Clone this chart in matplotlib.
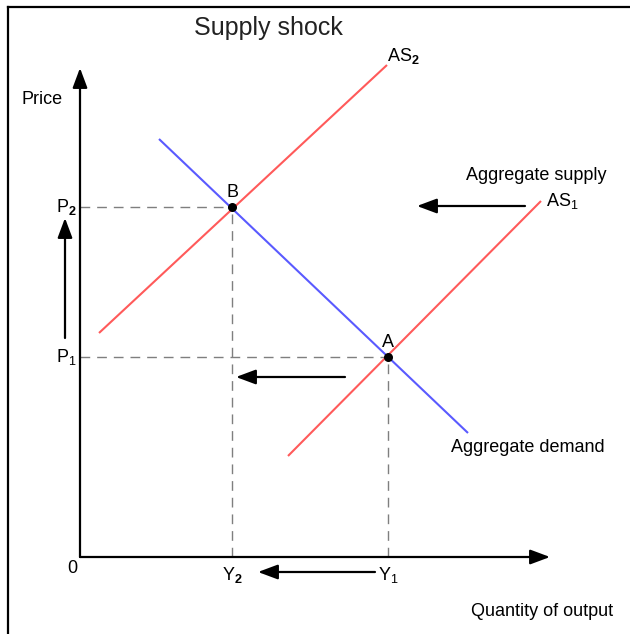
import matplotlib
matplotlib.use("Agg")
import matplotlib.pyplot as plt
from matplotlib.lines import Line2D

plt.rcParams['font.family'] = ['Liberation Sans', 'DejaVu Sans']
plt.rcParams['mathtext.fontset'] = 'custom'
plt.rcParams['mathtext.rm'] = 'Liberation Sans'
plt.rcParams['mathtext.bf'] = 'Liberation Sans:bold'
plt.rcParams['mathtext.it'] = 'Liberation Sans'

# ---- data (arbitrary economic units) ----
as1_x = [5.2, 11.525]
as1_y = [2.525, 8.9]
as2_x = [0.475, 7.675]
as2_y = [5.6, 12.3]
ad_x = [1.975, 9.7]
ad_y = [10.45, 3.1]
eq_labels = ["A", "B"]
eq_x = [7.7, 3.8]      # Y1, Y2
eq_y = [5.0, 8.75]     # P1, P2
y_labels = [r"Y$_{\mathrm{1}}$", r"Y$_{\mathbf{2}}$"]
p_labels = [r"P$_{\mathrm{1}}$", r"P$_{\mathbf{2}}$"]
x_axis_max = 11.75
y_axis_max = 12.225

RED = "#ff5a5a"
BLUE = "#5a5aff"
GREY = "#7f7f7f"

fig = plt.figure(figsize=(6.30, 6.34), dpi=100)
ax = fig.add_axes([0, 0, 1, 1])
ax.set_xlim(-2.0, 13.75)
ax.set_ylim(-1.925, 13.925)
ax.axis("off")

# frame (left + top)
fig.add_artist(Line2D([8/630, 8/630], [0, 1 - 7/634], transform=fig.transFigure, color="black", lw=1.6))
fig.add_artist(Line2D([8/630, 1], [1 - 7/634, 1 - 7/634], transform=fig.transFigure, color="black", lw=1.6))

arrow_kw = dict(arrowstyle="-|>,head_length=0.75,head_width=0.28", color="black", lw=1.6,
                shrinkA=0, shrinkB=0, mutation_scale=16)

# axes
ax.annotate("", xy=(0, y_axis_max), xytext=(0, 0), arrowprops=arrow_kw)
ax.annotate("", xy=(x_axis_max, 0), xytext=(0, 0), arrowprops=arrow_kw)

# dashed guides
dash = dict(color=GREY, lw=1.0, ls=(0, (7, 5)))
for x, y in zip(eq_x, eq_y):
    ax.plot([0, x], [y, y], **dash)
    ax.plot([x, x], [0, y], **dash)

# curves
ax.plot(as2_x, as2_y, color=RED, lw=1.5, solid_capstyle="butt")
ax.plot(as1_x, as1_y, color=RED, lw=1.5, solid_capstyle="butt")
ax.plot(ad_x, ad_y, color=BLUE, lw=1.5, solid_capstyle="butt")

# equilibrium points
ax.scatter(eq_x, eq_y, s=30, color="black", zorder=5)
for lab, x, y in zip(eq_labels, eq_x, eq_y):
    ax.text(x, y + 0.37, lab, ha="center", va="center", fontsize=13)

# axis value labels
for lab, x in zip(y_labels, eq_x):
    ax.text(x, -0.45, lab, ha="center", va="center", fontsize=13)
for lab, y in zip(p_labels, eq_y):
    ax.text(-0.08, y, lab, ha="right", va="center", fontsize=13)
ax.text(-0.2, -0.28, "0", ha="center", va="center", fontsize=13)

# shift arrows
shift_kw = dict(arrowstyle="-|>,head_length=0.75,head_width=0.28", color="black", lw=1.6,
                shrinkA=0, shrinkB=0, mutation_scale=16)
ax.annotate("", xy=(-0.375, 8.475), xytext=(-0.375, 5.475), arrowprops=shift_kw)
ax.annotate("", xy=(3.9, 4.5), xytext=(6.625, 4.5), arrowprops=shift_kw)
ax.annotate("", xy=(8.425, 8.775), xytext=(11.125, 8.775), arrowprops=shift_kw)
ax.annotate("", xy=(4.45, -0.375), xytext=(7.375, -0.375), arrowprops=shift_kw)

# curve labels
ax.text(as2_x[1] + 0.0, as2_y[1] + 0.22, r"AS$_{\mathbf{2}}$", ha="left", va="center", fontsize=13)
ax.text(as1_x[1] + 0.12, as1_y[1] - 0.0, r"AS$_{\mathrm{1}}$", ha="left", va="center", fontsize=13)
ax.text(11.4, 9.525, "Aggregate supply", ha="center", va="center", fontsize=13)
ax.text(11.2, 2.75, "Aggregate demand", ha="center", va="center", fontsize=13)
ax.text(11.55, -1.375, "Quantity of output", ha="center", va="center", fontsize=13)
ax.text(-0.95, 11.425, "Price", ha="center", va="center", fontsize=13)
ax.text(4.7, 13.225, "Supply shock", ha="center", va="center", fontsize=18, color="#222222")

fig.savefig("out.png", dpi=100)
